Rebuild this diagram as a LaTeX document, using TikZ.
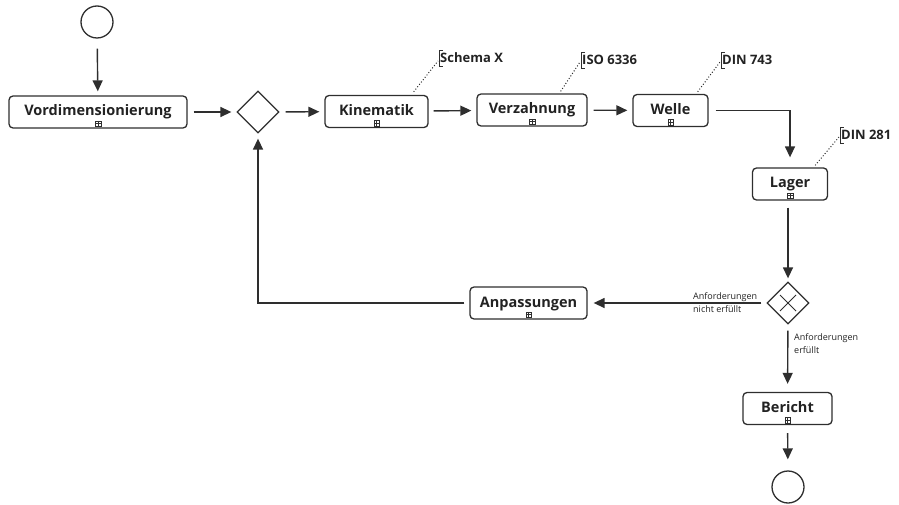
\documentclass[tikz,border=0pt]{standalone}
\usepackage{fontspec}
\setmainfont{Open Sans}
\usetikzlibrary{shapes.geometric,arrows.meta,calc}
\definecolor{ln}{HTML}{2E2E2E}
\definecolor{tx}{HTML}{222222}
\begin{document}
\begin{tikzpicture}[x=1pt,y=-1pt,
 every node/.style={text=tx},
 box/.style={draw=ln, line width=1.3pt, rounded corners=4pt, font=\bfseries\fontsize{14.5}{16}\selectfont, text height=12pt, text depth=4pt, inner xsep=3pt, minimum height=32pt},
 mk/.style={draw=ln, line width=0.5pt, minimum size=5.5pt, inner sep=0pt, path picture={\draw[line width=0.4pt] (path picture bounding box.north) -- (path picture bounding box.south) (path picture bounding box.west) -- (path picture bounding box.east);}},
 gw/.style={draw=ln, line width=1.3pt, diamond, minimum width=42pt, minimum height=42pt, inner sep=0pt},
 ev/.style={draw=ln, line width=1.3pt, circle, minimum size=32pt, inner sep=0pt},
 flow/.style={draw=ln, line width=1.4pt, -{Triangle[length=11pt,width=10pt]}},
 an/.style={font=\bfseries\fontsize{13}{14}\selectfont, anchor=west, inner sep=1pt},
 brk/.style={draw=ln, line width=0.9pt},
 note/.style={draw=ln, line width=1pt, dotted},
 sm/.style={font=\fontsize{9}{12.5}\selectfont, align=left, inner sep=0pt, anchor=west}
]
\useasboundingbox (0,0) rectangle (899,505);

% events and gateways
\node[ev] (start) at (97,22) {};
\node[gw] (g1) at (258,112) {};
\node[gw, path picture={\draw[line width=0.9pt] ($(path picture bounding box.center)+(-8,-8)$) -- ($(path picture bounding box.center)+(8,8)$) ($(path picture bounding box.center)+(-8,8)$) -- ($(path picture bounding box.center)+(8,-8)$);}] (g2) at (788,303) {};
\node[ev] (end) at (788,487) {};

% tasks
\node[box, minimum width=178pt] (vor) at (98,112) {Vordimensionierung};
\node[box, minimum width=103pt] (kin) at (376.5,111.5) {Kinematik};
\node[box, minimum width=110pt] (ver) at (532,110) {Verzahnung};
\node[box, minimum width=75pt] (wel) at (670.5,110.5) {Welle};
\node[box, minimum width=75pt] (lag) at (790,184) {Lager};
\node[box, minimum width=117pt] (anp) at (528.5,303) {Anpassungen};
\node[box, minimum width=89pt] (ber) at (787.5,408.5) {Bericht};

% subprocess markers
\node[mk] (vorm) at ($(vor.south)+(0,-5)$) {};
\node[mk] (kinm) at ($(kin.south)+(0,-5)$) {};
\node[mk] (verm) at ($(ver.south)+(0,-5)$) {};
\node[mk] (welm) at ($(wel.south)+(0,-5)$) {};
\node[mk] (lagm) at ($(lag.south)+(0,-5)$) {};
\node[mk] (anpm) at ($(anp.south)+(0,-5)$) {};
\node[mk] (berm) at ($(ber.south)+(0,-5)$) {};

% annotations
\node[an] (sch) at (439,58) {Schema X};
\node[an] (iso) at (581,60) {ISO 6336};
\node[an] (d743) at (721,60) {DIN 743};
\node[an] (d281) at (840,135) {DIN 281};
\foreach \a in {sch,iso,d743,d281}{
  \draw[brk] ($(\a.west)+(3.5,-8)$) -- ++(-3.5,0) -- ++(0,16) -- ++(3.5,0);
}
\draw[note] ($(kin.north east)+(-15,-3)$) -- ($(sch.west)+(-1,3)$);
\draw[note] ($(ver.north east)+(-27,-2)$) -- ($(iso.west)+(-1,2)$);
\draw[note] ($(wel.north east)+(-11,-2)$) -- ($(d743.west)+(-1,2)$);
\draw[note] ($(lag.north east)+(-13,-2)$) -- ($(d281.west)+(-1,2)$);

% flows
\draw[flow, shorten <=10pt, shorten >=4pt] (start) -- (vor);
\draw[flow, shorten <=6pt, shorten >=5pt] (vor) -- (g1);
\draw[flow, shorten <=6pt, shorten >=5pt] (g1) -- (kin);
\draw[flow, shorten <=5pt, shorten >=5pt] (kin) -- (ver);
\draw[flow, shorten <=6pt, shorten >=5pt] (ver) -- (wel);
\draw[flow, shorten <=7pt, shorten >=10pt] (wel.east) -| (lag.north);
\draw[flow, shorten <=7pt, shorten >=3pt] (lag.south -| g2.north) -- (g2.north);
\draw[flow, shorten <=5pt, shorten >=6pt] (g2.west) -- (anp.east);
\draw[flow, shorten <=5pt, shorten >=5pt] (anp.west) -| (g1.south);
\draw[flow, shorten <=6pt, shorten >=8pt] (g2) -- (ber);
\draw[flow, shorten <=8pt, shorten >=11pt] (ber) -- (end);

% flow labels
\node[sm] (lno) at (693,302.5) {Anforderungen\\nicht erfüllt};
\node[sm] (lyes) at (794,343.5) {Anforderungen\\erfüllt};
\end{tikzpicture}
\end{document}
